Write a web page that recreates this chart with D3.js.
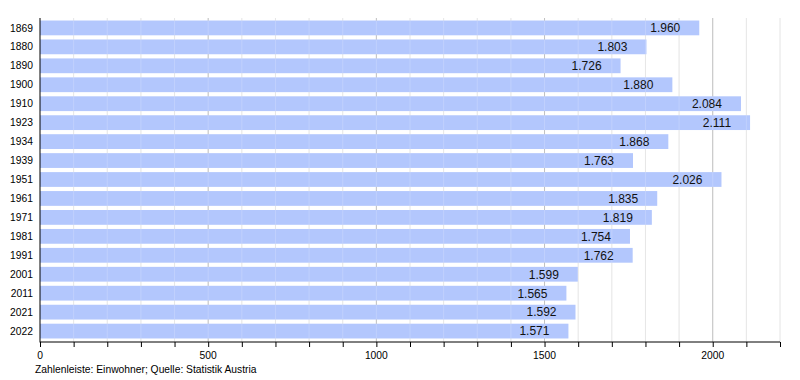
<!DOCTYPE html>
<html><head><meta charset="utf-8">
<script src="https://cdn.jsdelivr.net/npm/d3@7"></script>
<style>body{margin:0;background:#fff}svg{display:block;font-family:"Liberation Sans",Arial,sans-serif}</style>
</head><body><svg id="c" width="800" height="380"></svg>
<script>
const years = ["1869","1880","1890","1900","1910","1923","1934","1939","1951","1961","1971","1981","1991","2001","2011","2021","2022"];
const population = [1960,1803,1726,1880,2084,2111,1868,1763,2026,1835,1819,1754,1762,1599,1565,1592,1571];
const majorTicks = [0,500,1000,1500,2000];
const footer = "Zahlenleiste: Einwohner; Quelle: Statistik Austria";

const svg = d3.select("#c");
const x = d3.scaleLinear().domain([0,2200]).range([40,780]);
const y = d3.scaleBand().domain(years).range([19,340]).paddingInner(0.22).paddingOuter(0.08);
const axisY = 342;

// grid
const minor = d3.range(100,2201,100).filter(v=>v%500!==0);
svg.append("g").selectAll("line").data(minor).join("line")
  .attr("x1",d=>x(d)).attr("x2",d=>x(d)).attr("y1",18).attr("y2",axisY)
  .attr("stroke","#e2e2e2").attr("stroke-width",1);
svg.append("g").selectAll("line").data(majorTicks.filter(v=>v>0)).join("line")
  .attr("x1",d=>x(d)).attr("x2",d=>x(d)).attr("y1",18).attr("y2",axisY)
  .attr("stroke","#b4b4b4").attr("stroke-width",1);

// bars
svg.append("g").selectAll("rect").data(years).join("rect")
  .attr("x",x(0)).attr("y",d=>y(d)).attr("height",y.bandwidth())
  .attr("width",(d,i)=>x(population[i])-x(0)).attr("fill","#b3c7fd");

// faint grid over bars
svg.append("g").selectAll("line").data(d3.range(100,2201,100)).join("line")
  .attr("x1",d=>x(d)).attr("x2",d=>x(d)).attr("y1",18).attr("y2",axisY)
  .attr("stroke","#ffffff").attr("stroke-opacity",0.18).attr("stroke-width",1);

// value labels
const fmt = v => d3.format(",")(v).replace(",",".");
svg.append("g").selectAll("text").data(years).join("text")
  .attr("x",(d,i)=>x(population[i])-19).attr("y",d=>y(d)+y.bandwidth()/2)
  .attr("dy","0.36em").attr("text-anchor","end").attr("font-size",12).attr("fill","#111")
  .text((d,i)=>fmt(population[i]));

// y labels
svg.append("g").selectAll("text").data(years).join("text")
  .attr("x",33).attr("y",d=>y(d)+y.bandwidth()/2).attr("dy","0.35em")
  .attr("text-anchor","end").attr("font-size",10.3).attr("fill","#000").text(d=>d);

// axes lines
svg.append("line").attr("x1",x(0)).attr("x2",x(0)).attr("y1",18).attr("y2",axisY+0.5).attr("stroke","#000");
svg.append("line").attr("x1",x(0)).attr("x2",x(2200)).attr("y1",axisY).attr("y2",axisY).attr("stroke","#000");
svg.append("g").selectAll("line").data(d3.range(0,2201,100)).join("line")
  .attr("x1",d=>x(d)+0.5).attr("x2",d=>x(d)+0.5).attr("y1",axisY).attr("y2",axisY+5).attr("stroke","#000");
svg.append("g").selectAll("text").data(majorTicks).join("text")
  .attr("x",d=>x(d)).attr("y",359).attr("text-anchor","middle").attr("font-size",10.3).text(d=>d);
svg.append("text").attr("x",35).attr("y",373).attr("font-size",10.3).text(footer);
</script></body></html>
